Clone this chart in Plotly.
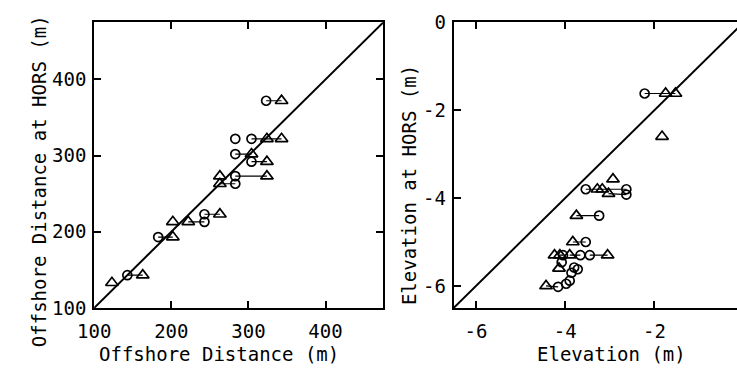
import plotly.graph_objects as go

W, H = 737, 383
FONT = "DejaVu Sans Mono"

# ---------------- data ----------------
# Left panel: offshore distance (m); kind: c = circle, t = triangle; grp = connected group
left_x = [323, 343,
          283,
          304, 324, 343,
          283, 304,
          304, 324,
          263,
          283, 324,
          263, 283,
          243, 263,
          202,
          222, 243,
          183, 202,
          123,
          143, 163]
left_y = [372, 372,
          322,
          322, 322, 322,
          302, 302,
          292, 292,
          273,
          273, 273,
          263, 263,
          223, 223,
          213,
          213, 213,
          193, 193,
          133,
          143, 143]
left_kind = ["c", "t",
             "c",
             "c", "t", "t",
             "c", "t",
             "c", "t",
             "t",
             "c", "t",
             "t", "c",
             "c", "t",
             "t",
             "t", "c",
             "c", "t",
             "t",
             "c", "t"]
left_grp = [1, 1, 2, 3, 3, 3, 4, 4, 5, 5, 6, 7, 7, 8, 8, 9, 9, 10, 11, 11, 12, 12, 13, 14, 14]

# Right panel: elevation (m)
right_x = [-2.22, -1.75, -1.53,
           -1.83,
           -2.93,
           -3.54, -3.28, -3.17, -2.63,
           -3.03, -2.63,
           -3.75, -3.24,
           -3.83, -3.54,
           -4.24,
           -4.12, -4.05,
           -3.90, -3.66,
           -3.45, -3.05,
           -4.08, -4.14,
           -3.80, -3.72, -3.86,
           -4.43, -4.16,
           -3.98, -3.90]
right_y = [-1.62, -1.62, -1.62,
           -2.60,
           -3.57,
           -3.80, -3.80, -3.80, -3.80,
           -3.90, -3.92,
           -4.40, -4.40,
           -5.00, -5.00,
           -5.30,
           -5.30, -5.30,
           -5.30, -5.30,
           -5.30, -5.30,
           -5.46, -5.60,
           -5.58, -5.62, -5.70,
           -6.00, -6.02,
           -5.95, -5.88]
right_kind = ["c", "t", "t",
              "t",
              "t",
              "c", "t", "t", "c",
              "t", "c",
              "t", "c",
              "t", "c",
              "t",
              "t", "c",
              "t", "c",
              "c", "t",
              "c", "t",
              "c", "c", "c",
              "t", "c",
              "c", "c"]
right_grp = [1, 1, 1, 2, 3, 4, 4, 4, 4, 5, 5, 6, 6, 7, 7, 8, 9, 9, 10, 10, 11, 11,
             12, 13, 14, 15, 16, 17, 17, 18, 19]

left_range = [100, 475]
right_xrange = [-6.5, -0.15]
right_yrange = [-6.5, 0]
right_diag = [-6.5, 0]

left_ticks = [100, 200, 300, 400]
left_tick_labels = ["100", "200", "300", "400"]
right_ticks = [-6, -4, -2, 0]
right_tick_labels = ["-6", "-4", "-2", "0"]

# ---------------- figure ----------------
fig = go.Figure()


def add_panel(xs, ys, kinds, grps, xa, ya):
    seen = []
    for g in grps:
        if g not in seen:
            seen.append(g)
    for g in seen:
        idx = [i for i, gg in enumerate(grps) if gg == g]
        if len(idx) > 1:
            fig.add_trace(go.Scatter(x=[xs[i] for i in idx], y=[ys[i] for i in idx],
                                     mode="lines", line=dict(color="black", width=1.2),
                                     xaxis=xa, yaxis=ya, showlegend=False, hoverinfo="skip"))
    for k, sym, size in (("c", "circle-open", 9), ("t", "triangle-up-open", 11)):
        idx = [i for i, kk in enumerate(kinds) if kk == k]
        fig.add_trace(go.Scatter(x=[xs[i] for i in idx], y=[ys[i] for i in idx],
                                 mode="markers",
                                 marker=dict(symbol=sym, size=size, color="black",
                                             line=dict(color="black", width=1.7)),
                                 xaxis=xa, yaxis=ya, showlegend=False))


# diagonals
fig.add_trace(go.Scatter(x=left_range, y=left_range, mode="lines",
                         line=dict(color="black", width=2), xaxis="x", yaxis="y",
                         showlegend=False, hoverinfo="skip"))
fig.add_trace(go.Scatter(x=right_diag, y=right_diag, mode="lines",
                         line=dict(color="black", width=2), xaxis="x2", yaxis="y2",
                         showlegend=False, hoverinfo="skip"))

add_panel(left_x, left_y, left_kind, left_grp, "x", "y")
add_panel(right_x, right_y, right_kind, right_grp, "x2", "y2")

tickfont = dict(family=FONT, size=19, color="black")
common = dict(showgrid=False, zeroline=False, showline=True, linecolor="black",
              linewidth=2, ticks="inside", ticklen=7, tickwidth=1.5, tickcolor="black",
              tickfont=tickfont)

y_dom = [1 - 315 / H, 1 - 12 / H]
fig.update_layout(
    width=W, height=H, autosize=False,
    margin=dict(l=0, r=0, t=0, b=0),
    paper_bgcolor="white", plot_bgcolor="white",
    xaxis=dict(domain=[79 / W, 375 / W], range=left_range, tickvals=left_ticks,
               ticktext=left_tick_labels, mirror="ticks", anchor="y",
               ticklabelstandoff=5, **common),
    yaxis=dict(domain=y_dom, range=left_range, tickvals=left_ticks,
               ticktext=left_tick_labels, mirror="ticks", anchor="x",
               ticklabelstandoff=2, **common),
    xaxis2=dict(domain=[447 / W, 1.0], range=right_xrange, tickvals=right_ticks,
                ticktext=right_tick_labels, mirror="ticks", anchor="y2",
                ticklabelstandoff=5, **common),
    yaxis2=dict(domain=y_dom, range=right_yrange, tickvals=right_ticks,
                ticktext=right_tick_labels, mirror=False, anchor="x2",
                ticklabelstandoff=2, **common),
)

title_font = dict(family=FONT, size=19, color="black")
annos = [
    dict(text="Offshore Distance (m)", x=207 / W, y=1 - 364 / H, textangle=0),
    dict(text="Elevation (m)", x=609 / W, y=1 - 364 / H, textangle=0),
    dict(text="Offshore Distance at HORS (m)", x=22 / W, y=1 - 180 / H, textangle=-90),
    dict(text="Elevation at HORS (m)", x=402 / W, y=1 - 185 / H, textangle=-90),
]
for a in annos:
    fig.add_annotation(xref="paper", yref="paper", xanchor="center", yanchor="middle",
                       showarrow=False, font=title_font, **a)

fig.write_html("out.html")
